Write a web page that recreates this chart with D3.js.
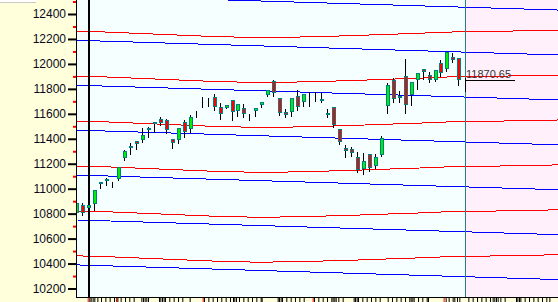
<!DOCTYPE html>
<html>
<head>
<meta charset="utf-8">
<script src="https://cdn.jsdelivr.net/npm/d3@7"></script>
<style>
  body { margin: 0; background: #ffffdc; overflow: hidden; }
  svg { display: block; }
</style>
</head>
<body>
<div id="chart"></div>
<script>
// one candle per session, slot index = position on the x axis
// null open/close = session drawn as a bare high-low bar
const opens  = [10807, 10869, 10848, 10875, 11035, 11067, null, 11075, 11243, 11328,
                11382, 11388, 11465, 11524, 11556, 11554, 11396, 11388, 11532, 11476,
                null, null, null, 11732, 11657, 11644, 11711, 11617, 11644, null,
                11623, 11671, 11745, 11863, 11724, 11612, 11612, 11743, 11689, null,
                null, 11721, 11604, 11652, 11476, 11326, 11316, 11256, 11155, 11276,
                11182, 11264, 11663, 11871, 11743, 11903, 11751, 11871, 11959, 11911,
                11871, 12010, 11965, 12053, 12045];
const highs  = [10933, 10883, 10872, 10990, 11055, 11082, 11051, 11173, 11310, 11364,
                11384, 11484, 11497, 11537, 11572, 11556, 11397, 11486, 11550, 11588,
                11625, 11735, 11727, 11757, 11684, 11672, 11712, 11678, 11676, 11596,
                11650, 11694, 11788, 11871, 11726, 11636, 11726, 11791, 11758, 11777,
                11777, 11764, 11636, 11654, 11478, 11350, 11336, 11294, 11288, 11277,
                11278, 11422, 11849, 11889, 11783, 12039, 11854, 11931, 11960, 11938,
                11952, 12031, 12099, 12090, 12046];
const lows   = [10749, 10781, 10845, 10821, 10995, 11024, 11008, 11061, 11224, 11270,
                11310, 11368, 11404, 11444, 11502, 11438, 11316, 11358, 11410, 11449,
                11570, 11644, 11657, 11625, 11554, 11642, 11542, 11572, 11564, 11542,
                11577, 11649, 11731, 11732, 11585, 11564, 11577, 11625, 11657, 11657,
                11697, 11689, 11569, 11484, 11350, 11243, 11252, 11123, 11110, 11136,
                11155, 11256, 11599, 11684, 11684, 11599, 11665, 11791, 11871, 11845,
                11855, 11897, 11933, 12005, 11823];
const closes = [10888, 10803, 10869, 10989, 11053, 11080, null, 11171, 11302, 11344,
                11354, 11430, 11484, 11537, 11526, 11470, 11364, 11484, 11449, 11572,
                null, null, null, 11652, 11604, 11671, 11612, 11677, 11596, null,
                11649, 11692, 11787, 11764, 11604, 11591, 11724, 11652, 11756, null,
                null, 11721, 11604, 11510, 11369, 11304, 11284, 11150, 11222, 11163,
                11256, 11404, 11831, 11716, 11743, 11671, 11853, 11930, 11938, 11871,
                11951, 11930, 12098, 12026, 11870.65];

const lastPrice = 11870.65;
const cursorSlot = 2;      // black cursor line
const todaySlot = 65;      // start of the future (pink) zone

// parallel channel lines: level of each line at the left edge
const redLevels  = [12261, 11901, 11541, 11181, 10821, 10461];
const blueLevels = [12549, 12189, 11829, 11469, 11109, 10749, 10389];
// shape shared by every line of a colour: [slot, shift from the level]
const redShape  = [[0, 0], [3, -2], [12, -20], [22, -40], [30, -50], [36, -47], [45, -36],
                   [52, -24], [57, -16], [62, -6], [70, 0], [81, 10]];
const blueShape = [[0, 0], [81, -118]];

const majorTicks = [12400, 12200, 12000, 11800, 11600, 11400, 11200, 11000, 10800, 10600, 10400, 10200];
const minorTicks = [12500, 12300, 12100, 11900, 11700, 11500, 11300, 11100, 10900, 10700, 10500, 10300];

// time ticks under the plot, in slot units
const dayTicks = [2.02, 2.24, 2.57, 2.85, 3.36, 3.97, 4.70, 5.42, 6.15, 6.71, 7.26, 7.99, 8.71, 9.44,
  10.73, 11.0, 11.28, 11.56, 11.84, 13.68, 13.91, 14.19, 14.46, 14.69, 15.41, 16.14, 16.87, 17.59,
  18.82, 21.22, 21.95, 22.67, 23.40, 24.12, 24.85, 25.58, 26.08, 26.30, 26.58, 27.08, 27.81, 28.54,
  29.26, 29.99, 30.71, 30.88, 33.56, 33.78, 34.06, 34.29, 35.01, 35.74, 36.46, 37.19, 37.92, 39.65,
  40.37, 41.10, 41.82, 42.55, 42.77, 43.05, 43.28, 43.72, 44.45, 46.29, 46.51, 46.79, 47.02, 47.74,
  48.47, 49.19, 49.92, 50.65, 51.99, 52.71, 53.44, 54.16, 54.89, 55.61, 55.84, 56.12, 56.34, 57.07,
  57.79, 58.52, 58.74, 61.70, 62.20, 62.87, 63.15, 63.60, 63.99, 65.50, 66.22, 66.95, 67.68, 68.40,
  69.13, 69.57, 69.85, 70.13, 70.41, 70.86, 71.58, 73.48, 73.71, 73.98, 74.21, 74.93, 75.66, 76.39,
  77.11, 77.84, 78.56, 79.07];
const monthTicks = [1.74, 6.48, 21.0, 39.42, 61.36];

let xScale, yScale, svg;

function drawChart() {
  const width = 558, height = 302;
  const plot = { left: 77, right: 558, top: 0, bottom: 297 };

  svg = d3.select('#chart').append('svg')
      .attr('width', width)
      .attr('height', height);

  xScale = d3.scaleLinear().domain([0, 64]).range([77.3, 459.4]);
  yScale = d3.scaleLinear().domain([10200, 12400]).range([288.5, 14]);

  svg.append('defs').append('clipPath')
      .attr('id', 'clip')
    .append('rect')
      .attr('x', plot.left)
      .attr('y', plot.top)
      .attr('width', plot.right - plot.left)
      .attr('height', plot.bottom - plot.top);

  // little white box top-left
  svg.append('rect')
      .attr('x', 0).attr('y', 0).attr('width', 36).attr('height', 2)
      .attr('fill', '#fff');
  svg.append('line')
      .attr('x1', 0).attr('x2', 36).attr('y1', 2.5).attr('y2', 2.5)
      .attr('stroke', '#c8c8c8');

  // plot backgrounds
  svg.append('rect')
      .attr('x', plot.left).attr('y', plot.top)
      .attr('width', plot.right - plot.left).attr('height', plot.bottom - plot.top)
      .attr('fill', '#f5ffff');

  const xToday = Math.round(xScale(todaySlot));
  svg.append('rect')
      .attr('x', xToday).attr('y', plot.top)
      .attr('width', plot.right - xToday).attr('height', plot.bottom - plot.top)
      .attr('fill', '#fff0fb');

  const g = svg.append('g').attr('clip-path', 'url(#clip)');

  // channel lines
  const line = d3.line()
      .x(d => xScale(d[0]))
      .y(d => yScale(d[1]));

  g.selectAll('path.red')
      .data(redLevels)
      .join('path')
      .attr('class', 'red')
      .attr('d', lvl => line(redShape.map(p => [p[0], lvl + p[1]])))
      .attr('fill', 'none')
      .attr('stroke', '#ff0000')
      .attr('shape-rendering', 'crispEdges');

  g.selectAll('path.blue')
      .data(blueLevels)
      .join('path')
      .attr('class', 'blue')
      .attr('d', lvl => line(blueShape.map(p => [p[0], lvl + p[1]])))
      .attr('fill', 'none')
      .attr('stroke', '#0000ff')
      .attr('shape-rendering', 'crispEdges');

  // cursor + today lines
  const xCursor = Math.round(xScale(cursorSlot));
  g.append('line')
      .attr('x1', xCursor).attr('x2', xCursor)
      .attr('y1', plot.top).attr('y2', plot.bottom)
      .attr('stroke', '#000')
      .attr('stroke-width', 2)
      .attr('shape-rendering', 'crispEdges');

  g.append('line')
      .attr('x1', xToday + 0.5).attr('x2', xToday + 0.5)
      .attr('y1', plot.top).attr('y2', plot.bottom)
      .attr('stroke', '#2a7f80')
      .attr('shape-rendering', 'crispEdges');

  // candles
  const idx = d3.range(closes.length);
  const candles = g.append('g').attr('class', 'candles')
      .attr('shape-rendering', 'crispEdges');

  candles.selectAll('line.wick')
      .data(idx)
      .join('line')
      .attr('class', 'wick')
      .attr('x1', i => Math.round(xScale(i)) - 0.5)
      .attr('x2', i => Math.round(xScale(i)) - 0.5)
      .attr('y1', i => yScale(highs[i]))
      .attr('y2', i => yScale(lows[i]))
      .attr('stroke', '#000');

  const bodies = idx.filter(i => opens[i] != null && opens[i] !== closes[i]);
  candles.selectAll('rect.body')
      .data(bodies)
      .join('rect')
      .attr('class', 'body')
      .attr('x', i => Math.round(xScale(i)) - 1.5)
      .attr('width', 3)
      .attr('y', i => Math.round(yScale(Math.max(opens[i], closes[i]))) + 0.5)
      .attr('height', i => Math.max(1, Math.round(yScale(Math.min(opens[i], closes[i])) - yScale(Math.max(opens[i], closes[i]))) - 1))
      .attr('fill', i => closes[i] >= opens[i] ? '#00f000' : '#ff0000')
      .attr('stroke', '#008080');

  const flats = idx.filter(i => opens[i] != null && opens[i] === closes[i]);
  candles.selectAll('line.flat')
      .data(flats)
      .join('line')
      .attr('class', 'flat')
      .attr('x1', i => Math.round(xScale(i)) - 2)
      .attr('x2', i => Math.round(xScale(i)) + 2)
      .attr('y1', i => Math.round(yScale(closes[i])) + 0.5)
      .attr('y2', i => Math.round(yScale(closes[i])) + 0.5)
      .attr('stroke', '#008080')
      .attr('stroke-width', 2);

  // last price marker
  const yLast = Math.round(yScale(lastPrice)) + 0.5;
  svg.append('line')
      .attr('x1', xToday).attr('x2', xToday + 50)
      .attr('y1', yLast).attr('y2', yLast)
      .attr('stroke', '#000')
      .attr('shape-rendering', 'crispEdges');
  svg.append('line')
      .attr('x1', xToday + 0.5).attr('x2', xToday + 0.5)
      .attr('y1', yLast - 3).attr('y2', yLast + 11)
      .attr('stroke', '#000')
      .attr('shape-rendering', 'crispEdges');
  svg.append('text')
      .attr('x', xToday + 1)
      .attr('y', yLast - 3)
      .attr('font-family', 'Liberation Sans, Arial, sans-serif')
      .attr('font-size', 11)
      .attr('fill', '#333')
      .text(d3.format('.2f')(lastPrice));

  // y axis
  const yAxis = svg.append('g')
      .attr('class', 'y-axis')
      .attr('transform', `translate(${plot.left}, 0)`)
      .call(d3.axisLeft(yScale).tickValues(majorTicks).tickSize(9).tickPadding(2).tickFormat(d3.format('d')));
  yAxis.select('.domain').remove();
  yAxis.selectAll('line').attr('stroke', '#000').attr('stroke-width', 2);
  yAxis.selectAll('text')
      .attr('font-family', 'Liberation Sans, Arial, sans-serif')
      .attr('font-size', 12)
      .attr('fill', '#0a0a1e');

  const yMinor = svg.append('g')
      .attr('transform', `translate(${plot.left}, 0)`)
      .call(d3.axisLeft(yScale).tickValues(minorTicks).tickSize(4).tickFormat(''));
  yMinor.select('.domain').remove();
  yMinor.selectAll('line').attr('stroke', '#ff0000').attr('stroke-width', 2);

  // x axis ticks (no labels)
  const xAxis = svg.append('g')
      .attr('transform', `translate(0, ${plot.bottom})`)
      .call(d3.axisBottom(xScale).tickValues(dayTicks).tickSize(5).tickFormat(''));
  xAxis.select('.domain').remove();
  xAxis.selectAll('line').attr('stroke', '#000');

  const xMonth = svg.append('g')
      .attr('transform', `translate(0, ${plot.bottom})`)
      .call(d3.axisBottom(xScale).tickValues(monthTicks).tickSize(5).tickFormat(''));
  xMonth.select('.domain').remove();
  xMonth.selectAll('line').attr('stroke', '#ff0000');

  // frame
  svg.append('line')
      .attr('x1', plot.left - 0.5).attr('x2', plot.left - 0.5)
      .attr('y1', 0).attr('y2', plot.bottom + 0.5)
      .attr('stroke', '#000');
  svg.append('line')
      .attr('x1', plot.left - 1).attr('x2', plot.right)
      .attr('y1', plot.bottom + 0.5).attr('y2', plot.bottom + 0.5)
      .attr('stroke', '#000');
}

drawChart();
</script>
</body>
</html>
